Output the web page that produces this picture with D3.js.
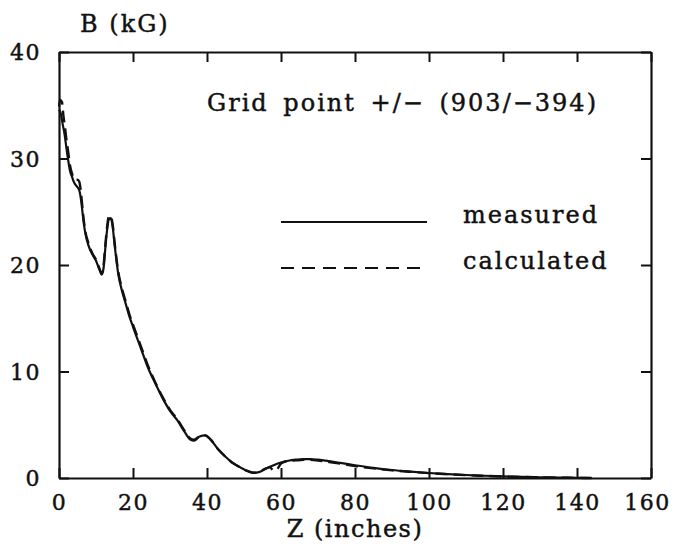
<!DOCTYPE html>
<html>
<head>
<meta charset="utf-8">
<script src="https://cdn.jsdelivr.net/npm/d3@7/dist/d3.min.js"></script>
<style>
  html, body { margin: 0; padding: 0; background: #fff; }
  svg { display: block; }
  text { font-family: "DejaVu Serif", "Liberation Serif", serif; fill: #111; stroke: #111; stroke-width: 0.45px; }
</style>
</head>
<body>
<svg id="chart" width="674" height="549"></svg>
<script>
// Axial field B (kG) along Z (inches) at grid point +/- (903/-394)
const zMeasured = [0, 0.5, 1, 1.5, 2, 2.5, 3, 3.5, 4, 5, 5.5, 6, 6.5, 7, 8, 9, 10, 11, 11.5, 12, 12.5, 13, 13.5, 14, 14.5, 15, 16, 17, 18, 19, 20, 22, 24, 26, 28, 30, 32, 34, 35.5, 36.5, 38, 39.5, 41, 43, 45, 47, 49, 51, 52.5, 54, 56, 58, 60, 62, 64, 66, 68, 70, 73, 76, 80, 85, 90, 95, 100, 105, 110, 115, 120, 125, 130, 135, 140, 144];
const bMeasured = [34.6, 34.2, 33.2, 32.3, 31.0, 29.8, 28.8, 28.3, 27.8, 27.3, 27.0, 26.0, 24.5, 23.2, 21.8, 21.0, 20.4, 19.5, 19.1, 19.6, 21.5, 23.3, 24.3, 24.4, 23.6, 22.0, 19.2, 17.6, 16.4, 15.2, 14.2, 12.3, 10.4, 8.9, 7.5, 6.3, 5.4, 4.3, 3.6, 3.5, 3.9, 4.0, 3.6, 2.7, 2.0, 1.4, 1.0, 0.65, 0.48, 0.55, 0.9, 1.2, 1.45, 1.62, 1.72, 1.78, 1.78, 1.72, 1.58, 1.42, 1.2, 0.95, 0.75, 0.6, 0.47, 0.37, 0.28, 0.21, 0.15, 0.1, 0.07, 0.04, 0.02, 0.0];

const zCalculated = [0, 0.3, 0.8, 1.2, 1.6, 2, 2.5, 3, 3.5, 4, 4.5, 5, 5.5, 6, 6.5, 7, 8, 9, 10, 11, 11.5, 12, 12.5, 13, 13.5, 14, 14.5, 15, 16, 17, 18, 19, 20, 22, 24, 26, 28, 30, 32, 34, 35.5, 36.5, 38, 39.5, 41, 43, 45, 47, 49, 51, 53, 55, 57, 58, 59, 60, 62, 64, 66, 68, 70, 73, 76, 80, 85, 90, 95, 100, 105, 110, 115, 120, 125, 130, 135, 140, 144];
const bCalculated = [34.9, 35.5, 35.3, 34.0, 33.0, 31.8, 30.6, 29.3, 28.6, 28.2, 28.0, 28.0, 27.8, 26.6, 24.8, 23.4, 22.0, 21.1, 20.5, 19.6, 19.2, 19.8, 21.8, 23.6, 24.6, 24.6, 23.8, 22.2, 19.4, 17.8, 16.6, 15.4, 14.4, 12.5, 10.6, 9.0, 7.6, 6.4, 5.5, 4.4, 3.7, 3.6, 3.9, 4.0, 3.6, 2.7, 2.0, 1.4, 1.0, 0.65, 0.5, 0.75, 1.0, 0.7, 0.85, 1.35, 1.6, 1.65, 1.7, 1.7, 1.64, 1.5, 1.35, 1.12, 0.9, 0.72, 0.58, 0.46, 0.36, 0.27, 0.2, 0.14, 0.1, 0.06, 0.03, 0.01, 0.0];

const xTicks = [0, 20, 40, 60, 80, 100, 120, 140, 160];
const yTicks = [0, 10, 20, 30, 40];

const legendItems = ["measured", "calculated"];
const titleText = "Grid point +/\u2212 (903/\u2212394)";

const svg = d3.select("#chart");
const plotLeft = 59, plotRight = 651, plotTop = 52, plotBottom = 478;

const x = d3.scaleLinear().domain([0, 160]).range([plotLeft, plotRight]);
const y = d3.scaleLinear().domain([0, 40]).range([plotBottom, plotTop]);

const tickLen = 10;
const tickFont = "22px";

// bottom axis with labels, inward ticks
const gB = svg.append("g").attr("transform", `translate(0,${plotBottom})`)
  .call(d3.axisBottom(x).tickValues(xTicks).tickSizeInner(-tickLen).tickSizeOuter(0).tickPadding(16).tickFormat(d3.format("d")));
// left axis with labels
const gL = svg.append("g").attr("transform", `translate(${plotLeft},0)`)
  .call(d3.axisLeft(y).tickValues(yTicks).tickSizeInner(-tickLen).tickSizeOuter(0).tickPadding(18).tickFormat(d3.format("d")));
// top and right frame axes, ticks only
const gT = svg.append("g").attr("transform", `translate(0,${plotTop})`)
  .call(d3.axisTop(x).tickValues(xTicks).tickSizeInner(-tickLen).tickSizeOuter(0).tickFormat(""));
const gR = svg.append("g").attr("transform", `translate(${plotRight},0)`)
  .call(d3.axisRight(y).tickValues(yTicks).tickSizeInner(-tickLen).tickSizeOuter(0).tickFormat(""));

[gB, gL, gT, gR].forEach(g => {
  g.select(".domain").attr("stroke", "#111").attr("stroke-width", 2.2);
  g.selectAll(".tick line").attr("stroke", "#111").attr("stroke-width", 2);
  g.selectAll(".tick text")
    .attr("font-family", "DejaVu Serif, Liberation Serif, serif")
    .attr("font-size", tickFont)
    .attr("letter-spacing", "1.5px")
    .attr("fill", "#111");
});
gL.selectAll(".tick text").attr("dy", "0.36em");
// the last x label sits a little inside the frame corner
gB.selectAll(".tick text").filter(d => d === 160).attr("x", -4);

// axis titles
svg.append("text").attr("x", 80).attr("y", 32)
  .attr("font-size", "24px").attr("letter-spacing", "2px").text("B (kG)");
svg.append("text").attr("x", 355).attr("y", 537).attr("text-anchor", "middle")
  .attr("font-size", "24px").attr("letter-spacing", "1.5px").text("Z (inches)");

// curves
const line = d3.line().x(d => x(d[0])).y(d => y(d[1])).curve(d3.curveMonotoneX);
const measured = zMeasured.map((z, i) => [z, bMeasured[i]]);
const calculated = zCalculated.map((z, i) => [z, bCalculated[i]]);

svg.append("path").datum(calculated).attr("d", line)
  .attr("fill", "none").attr("stroke", "#111").attr("stroke-width", 2.4)
  .attr("stroke-dasharray", "12,6");
svg.append("path").datum(measured).attr("d", line)
  .attr("fill", "none").attr("stroke", "#111").attr("stroke-width", 2.2);

// annotation
svg.append("text").attr("x", 207).attr("y", 111)
  .attr("font-size", "24px").attr("letter-spacing", "2px").attr("word-spacing", "5px").text(titleText);

// legend
const legendY = [222, 268];
const leg = svg.append("g");
legendItems.forEach((name, i) => {
  leg.append("line").attr("x1", 281).attr("x2", 427)
    .attr("y1", legendY[i]).attr("y2", legendY[i])
    .attr("stroke", "#111").attr("stroke-width", 2)
    .attr("stroke-dasharray", i === 1 ? "13,8" : null);
  leg.append("text").attr("x", 463).attr("y", legendY[i] + 1)
    .attr("font-size", "24px").attr("letter-spacing", "2px").text(name);
});
</script>
</body>
</html>
